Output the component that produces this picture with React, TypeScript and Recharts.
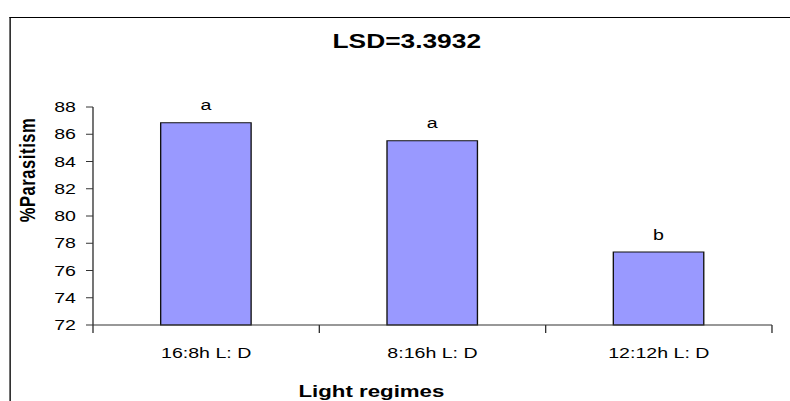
import React from "react";
import { BarChart, Bar, XAxis, YAxis, LabelList } from "recharts";

const categories = ["16:8h L: D", "8:16h L: D", "12:12h L: D"];
const parasitism = [86.85, 85.53, 77.35];
const groupLetters = ["a", "a", "b"];
const yTicks = [72, 74, 76, 78, 80, 82, 84, 86, 88];

// the reference is stretched sideways, so draw narrow and scale x
const STRETCH = 1.35;
const W = 790 / STRETCH;
const H = 401;
const PLOT_LEFT = 93 / STRETCH;
const PLOT_RIGHT = 772 / STRETCH;
const PLOT_TOP = 107;
const PLOT_BOTTOM = 325;
const BAND = (PLOT_RIGHT - PLOT_LEFT) / categories.length;
const FONT = "'Liberation Sans', Arial, sans-serif";
const AXIS = "#333";

const data = categories.map((regime, i) => ({
  regime,
  value: parasitism[i],
  letter: groupLetters[i],
}));

// category label plus the boundary tick marks under the axis
function XTick(props: any) {
  const { x, payload, index } = props;
  const half = BAND / 2;
  return (
    <g>
      <line x1={x - half} x2={x - half} y1={PLOT_BOTTOM} y2={PLOT_BOTTOM + 8} stroke={AXIS} strokeWidth={1} />
      {index === categories.length - 1 && (
        <line x1={x + half} x2={x + half} y1={PLOT_BOTTOM} y2={PLOT_BOTTOM + 8} stroke={AXIS} strokeWidth={1} />
      )}
      <text x={x} y={PLOT_BOTTOM + 33.3} textAnchor="middle" fontFamily={FONT} fontSize={14.5} fill="#000">
        {payload.value}
      </text>
    </g>
  );
}

export default function App() {
  const yAxisWidth = 60;
  return (
    <div
      style={{
        position: "absolute",
        left: 0,
        top: 0,
        width: 790,
        height: H,
        overflow: "hidden",
        background: "#fff",
      }}
    >
      <div
        style={{
          position: "absolute",
          left: 0,
          top: 0,
          width: W,
          height: H,
          transform: `scaleX(${STRETCH})`,
          transformOrigin: "0 0",
        }}
      >
        {/* frame of the chart area, cut off right and bottom */}
        <div
          style={{
            position: "absolute",
            left: 6.65,
            top: 16.75,
            width: W,
            height: H,
            borderLeft: "1.5px solid #000",
            borderTop: "1.5px solid #000",
            boxSizing: "border-box",
          }}
        />
        <div style={{ position: "absolute", left: 0, top: 0 }}>
          <BarChart
            width={W}
            height={H}
            data={data}
            margin={{ top: PLOT_TOP, right: W - PLOT_RIGHT, bottom: 0, left: PLOT_LEFT - yAxisWidth }}
            barCategoryGap="29.9%"
          >
            <XAxis
              dataKey="regime"
              height={H - PLOT_BOTTOM}
              axisLine={{ stroke: AXIS, strokeWidth: 1 }}
              tickLine={false}
              tick={<XTick />}
              interval={0}
            />
            <YAxis
              width={yAxisWidth}
              domain={[72, 88]}
              ticks={yTicks}
              interval={0}
              axisLine={{ stroke: AXIS, strokeWidth: 1 }}
              tickLine={{ stroke: AXIS, strokeWidth: 1 }}
              tickSize={7 / STRETCH}
              tickMargin={7.4}
              tick={{ fill: "#000", fontSize: 14.5, fontFamily: FONT }}
            />
            <Bar dataKey="value" fill="#9999FF" stroke="#111" strokeWidth={1} isAnimationActive={false}>
              <LabelList
                dataKey="letter"
                position="top"
                offset={12.5}
                fill="#000"
                fontSize={14.5}
                fontFamily={FONT}
              />
            </Bar>
          </BarChart>
        </div>
        <svg
          width={W}
          height={H}
          style={{ position: "absolute", left: 0, top: 0, pointerEvents: "none" }}
        >
          <text x={406.8 / STRETCH} y={47.7} textAnchor="middle" fontFamily={FONT} fontWeight="bold" fontSize={19.5} fill="#000">
            LSD=3.3932
          </text>
          <text x={371.4 / STRETCH} y={397.5} textAnchor="middle" fontFamily={FONT} fontWeight="bold" fontSize={16.5} fill="#000">
            Light regimes
          </text>
          <text
            x={35 / STRETCH}
            y={170}
            transform={`rotate(-90, ${35 / STRETCH}, 170)`}
            textAnchor="middle"
            fontFamily={FONT}
            fontWeight="bold"
            fontSize={16.5}
            letterSpacing={0.6}
            fill="#000"
          >
            %Parasitism
          </text>
        </svg>
      </div>
    </div>
  );
}
